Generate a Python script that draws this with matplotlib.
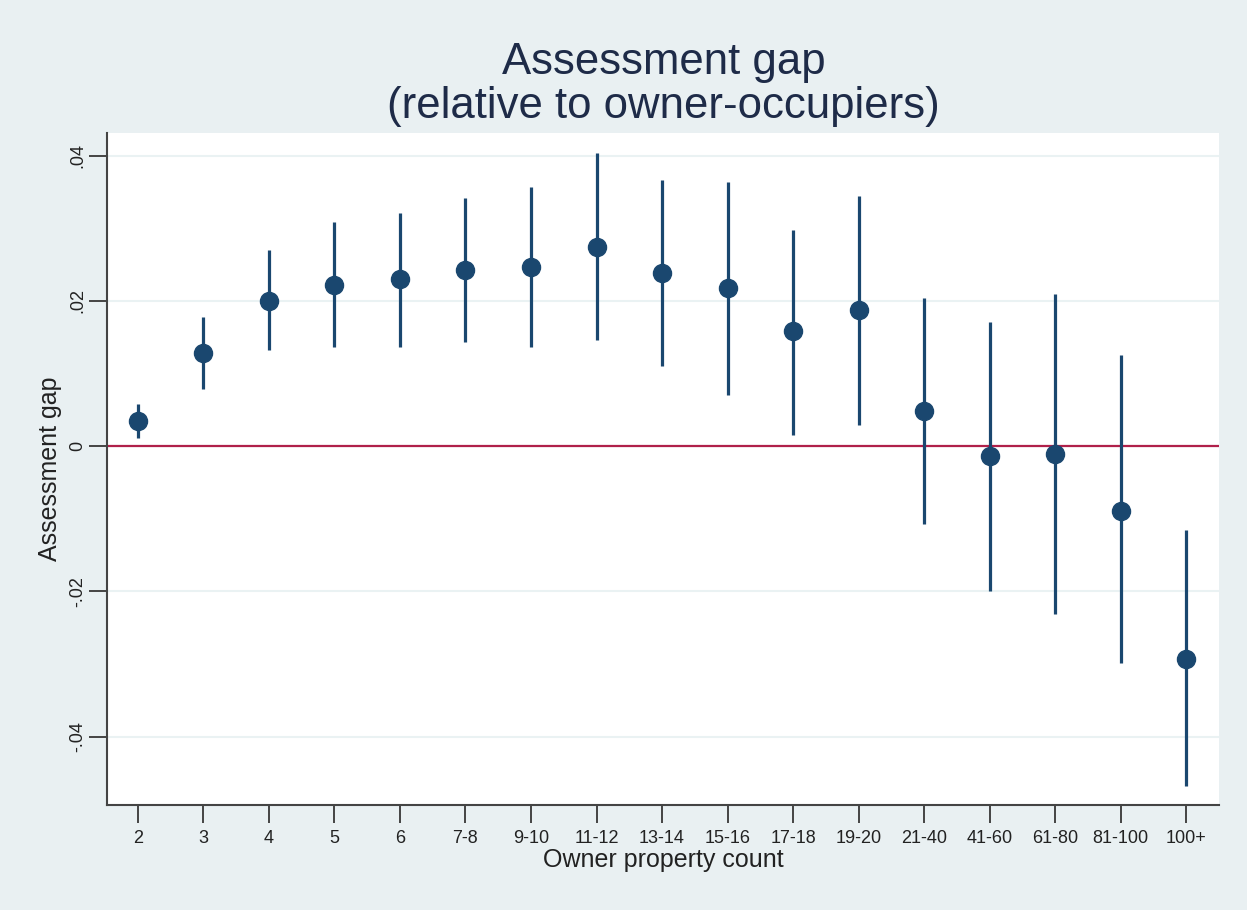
import numpy as np
import matplotlib.pyplot as plt

# categories and estimates
cats = ['2', '3', '4', '5', '6', '7-8', '9-10', '11-12', '13-14', '15-16',
        '17-18', '19-20', '21-40', '41-60', '61-80', '81-100', '100+']
est = [0.0034, 0.0128, 0.0200, 0.0222, 0.0230, 0.0242, 0.0246, 0.0274,
       0.0239, 0.0217, 0.0158, 0.0188, 0.0048, -0.0014, -0.0011, -0.0089, -0.0293]
ci_hi = [0.0058, 0.0178, 0.0270, 0.0309, 0.0321, 0.0341, 0.0357, 0.0403,
         0.0367, 0.0364, 0.0298, 0.0344, 0.0204, 0.0171, 0.0210, 0.0125, -0.0115]
ci_lo = [0.0011, 0.0078, 0.0133, 0.0137, 0.0136, 0.0144, 0.0137, 0.0146,
         0.0110, 0.0071, 0.0016, 0.0029, -0.0107, -0.0199, -0.0231, -0.0299, -0.0468]
yticks = [-0.04, -0.02, 0, 0.02, 0.04]
ytick_labels = ['-.04', '-.02', '0', '.02', '.04']

bg = '#e9f0f2'
navy = '#1a476f'
plt.rcParams['font.family'] = ['Liberation Sans', 'DejaVu Sans']

fig = plt.figure(figsize=(12.47, 9.10), dpi=100, facecolor=bg)
ax = fig.add_axes([0.0858, 0.1154, 0.8918, 0.7384])
ax.set_facecolor('white')

x = np.arange(len(cats))
ax.vlines(x, ci_lo, ci_hi, color=navy, lw=2.3, zorder=3)
ax.plot(x, est, 'o', color=navy, ms=13, zorder=4)
ax.axhline(0, color='#b0204a', lw=1.6, zorder=2)

ax.set_xlim(-0.47, 16.5)
ax.set_ylim(-0.0494, 0.0431)
ax.set_xticks(x)
ax.set_xticklabels(cats, fontsize=13, color='#222222')
ax.set_yticks(yticks)
ax.set_yticklabels(ytick_labels, fontsize=13, rotation=90, va='center', color='#222222')
ax.grid(axis='y', color='#eaf2f3', lw=1.5, zorder=0)
ax.tick_params(length=13, width=1.4, color='#444444', pad=5)
ax.tick_params(axis='y', pad=2)

for s in ['top', 'right']:
    ax.spines[s].set_visible(False)
for s in ['left', 'bottom']:
    ax.spines[s].set_color('#444444')
    ax.spines[s].set_linewidth(1.5)

ax.set_xlabel('Owner property count', fontsize=18, color='#222222', labelpad=1)
ax.set_ylabel('Assessment gap', fontsize=18, color='#222222', labelpad=5)
fig.text(0.532, 0.907, 'Assessment gap\n(relative to owner-occupiers)',
         ha='center', va='center', fontsize=31.5, color='#1e2b48', linespacing=1.1)

plt.savefig('out.png', dpi=100, facecolor=bg)
